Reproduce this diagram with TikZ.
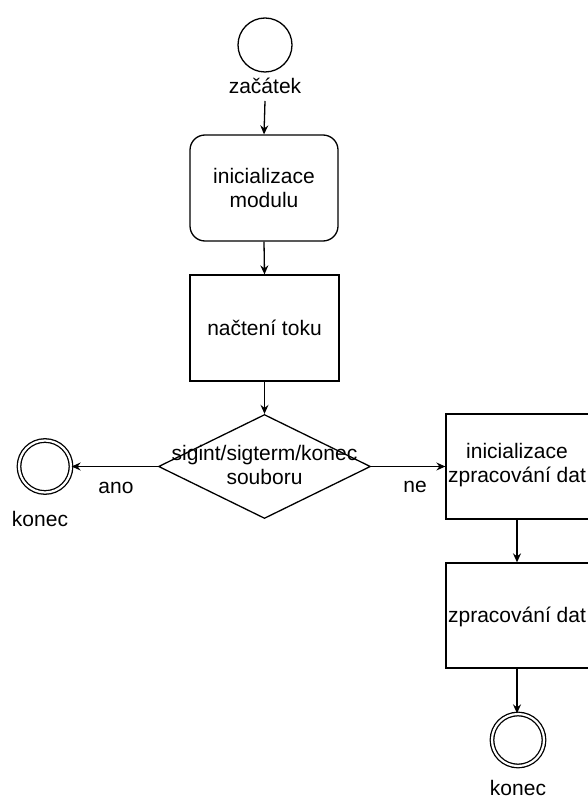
\documentclass[tikz,border=0pt]{standalone}
\usepackage{fontspec}
\setmainfont{Liberation Sans}
\usetikzlibrary{shapes.geometric,arrows.meta}
\begin{document}
\begin{tikzpicture}[x=1pt,y=-1pt,
  every node/.style={font=\fontsize{21}{24.5}\selectfont, inner sep=0pt},
  ln/.style={line width=1.3pt},
  arr/.style={ln,-{Stealth[length=9pt,width=8pt,inset=3pt]}},
  startev/.style={circle,draw,ln,minimum size=54pt},
  endev/.style={circle,draw,ln,double,double distance=2.2pt,minimum size=52pt},
  procbox/.style={rectangle,draw,ln,align=center},
  lbl/.style={align=center}]
\useasboundingbox (0,0) rectangle (588,802);
\fill[white] (0,0) rectangle (588,802);
\node[startev] (start) at (265,45) {};
\node[lbl] (startlbl) at (265,86) {začátek};
\node[procbox,rounded corners=15pt,minimum width=148pt,minimum height=106pt] (init) at (264,188) {inicializace\\modulu};
\node[procbox,minimum width=149pt,minimum height=106pt] (load) at (264.5,328) {načtení toku};
\node[diamond,draw,ln,minimum width=212pt,minimum height=104pt] (dec) at (264.5,466.5) {};
\node[lbl] (dectxt) at (264.5,465) {sigint/sigterm/konec\\souboru};
\node[endev] (endL) at (45,466.5) {};
\node[lbl] (endLlbl) at (40,519) {konec};
\node[lbl] (ano) at (116,488) {ano};
\node[procbox,minimum width=144pt,minimum height=105pt] (zinit) at (518,466.5) {};
\node[lbl] (zinittxt) at (517,465) {inicializace\\zpracování dat};
\node[lbl] (ne) at (415,487) {ne};
\node[procbox,minimum width=144pt,minimum height=105pt] (proc) at (518,615.5) {};
\node[lbl] (proctxt) at (517,617) {zpracování dat};
\node[endev] (endR) at (518,740) {};
\node[lbl] (endRlbl) at (518,788) {konec};
\coordinate (a1) at (265,101);
\draw[arr] (a1) -- (init.north);
\draw[arr] (init.south) -- (load.north);
\draw[arr] (load.south) -- (dec.north);
\draw[arr] (dec.west) -- (endL.east);
\draw[arr] (dec.east) -- (zinit.west);
\draw[arr] (zinit.south -| zinittxt) -- (proc.north -| zinittxt);
\draw[arr] (proc.south -| zinittxt) -- (endR.north -| zinittxt);
\end{tikzpicture}
\end{document}
